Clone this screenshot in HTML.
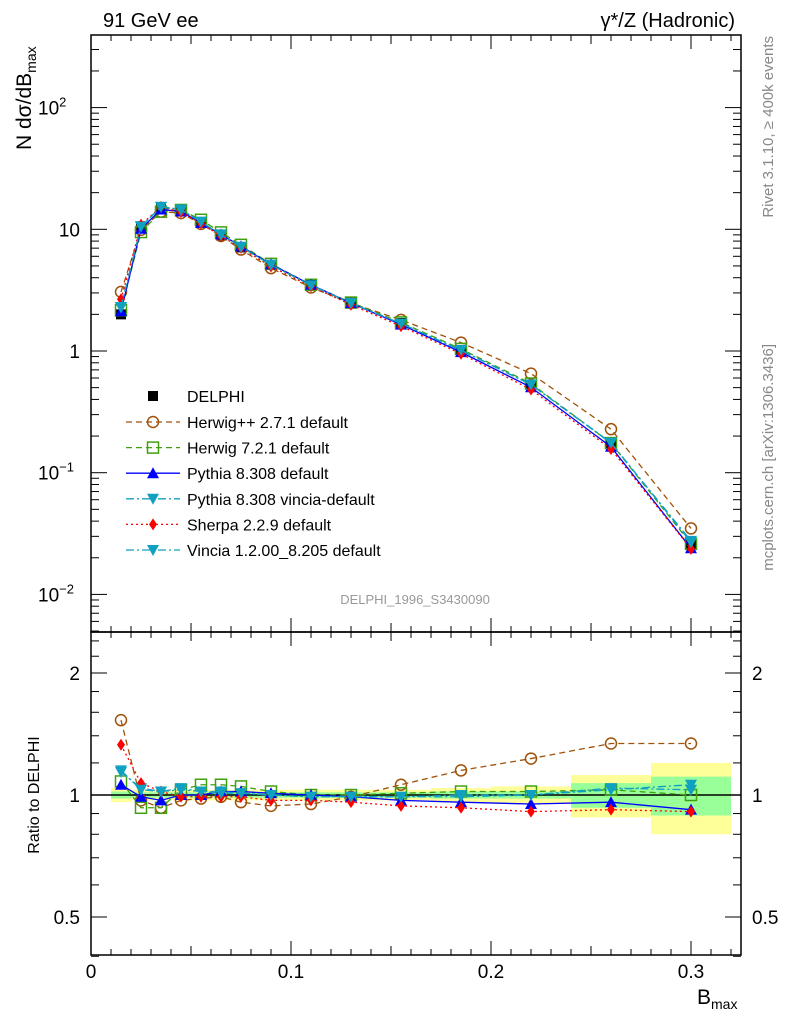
<!DOCTYPE html>
<html><head><meta charset="utf-8"><style>
body{margin:0;background:#fff;}
svg{display:block;font-family:"Liberation Sans",Arial,sans-serif;}
</style></head><body>
<svg id="c" width="786" height="1024" viewBox="0 0 786 1024"></svg>
<script>
const xs=[0.015,0.025,0.035,0.045,0.055,0.065,0.075,0.09,0.11,0.13,0.155,0.185,0.22,0.26,0.30];
const binLo=[0.01,0.02,0.03,0.04,0.05,0.06,0.07,0.08,0.10,0.12,0.14,0.17,0.20,0.24,0.28];
const binHi=[0.02,0.03,0.04,0.05,0.06,0.07,0.08,0.10,0.12,0.14,0.17,0.20,0.24,0.28,0.32];
const delphi=[2.0,10.2,15,14,11.3,8.9,7.1,5.1,3.5,2.5,1.7,1.02,0.53,0.17,0.026];
const errTot=[0.04,0.03,0.03,0.03,0.03,0.03,0.03,0.03,0.03,0.03,0.03,0.04,0.05,0.12,0.2];
const errStat=[0.02,0.015,0.015,0.015,0.015,0.015,0.015,0.015,0.015,0.015,0.015,0.02,0.02,0.07,0.11];
const rHerwigpp=[1.53,0.97,0.93,0.97,0.98,0.99,0.96,0.94,0.95,0.99,1.06,1.15,1.23,1.34,1.34];
const rHerwig7=[1.08,0.93,0.93,1.03,1.06,1.06,1.05,1.02,1.0,1.0,1.01,1.02,1.02,1.03,1.0];
const rPythia=[1.06,0.99,0.97,1.0,1.0,1.02,1.02,1.01,1.0,0.99,0.97,0.96,0.95,0.96,0.92];
const rVinciaDef=[1.14,1.04,1.02,1.04,1.02,1.02,1.01,1.0,0.99,0.99,0.99,0.99,1.0,1.03,1.06];
const rSherpa=[1.33,1.07,1.02,0.99,0.99,0.99,0.99,0.97,0.97,0.96,0.94,0.93,0.91,0.92,0.91];
const rVincia12=[1.15,1.03,1.02,1.03,1.02,1.01,1.01,1.0,0.99,0.99,0.99,1.0,1.0,1.04,1.03];
const xTicks=[0,0.1,0.2,0.3];
const NS='http://www.w3.org/2000/svg';
const svg=document.getElementById('c');
const L=91,R=741,T=35,M=632,B=955;
const X=v=>L+v*2000;
const Y=v=>351-Math.log10(v)*121.7;
const YR=v=>795-Math.log2(v)*122;
function el(t,a,p){const e=document.createElementNS(NS,t);for(const k in a)e.setAttribute(k,a[k]);(p||svg).appendChild(e);return e;}
function txt(x,y,s,a){const e=el('text',Object.assign({x:x,y:y},a||{}));e.innerHTML=s;return e;}
const bands=el('g',{});


for(let i=0;i<xs.length;i++){
 const a=el('rect',{x:X(binLo[i]),width:X(binHi[i])-X(binLo[i]),y:YR(1+errTot[i]),height:YR(1-errTot[i])-YR(1+errTot[i]),fill:'#ffff99'},bands);
 
 const b=el('rect',{x:X(binLo[i]),width:X(binHi[i])-X(binLo[i]),y:YR(1+errStat[i]),height:YR(1-errStat[i])-YR(1+errStat[i]),fill:'#99ff99'},bands);
 
}
el('line',{x1:L,x2:R,y1:YR(1),y2:YR(1),stroke:'#000','stroke-width':1.5});
el('rect',{x:L,y:T,width:R-L,height:M-T,fill:'none',stroke:'#000','stroke-width':1.5});
el('rect',{x:L,y:M,width:R-L,height:B-M,fill:'none',stroke:'#000','stroke-width':1.5});
for(let v=0;v<=0.321;v+=0.01){const big=Math.abs(v*10-Math.round(v*10))<1e-6;const mid=Math.abs(v*20-Math.round(v*20))<1e-6;const l=big?14:(mid?9:6);
 for(const [t,b] of [[T,M],[M,B]]){el('line',{x1:X(v),x2:X(v),y1:b,y2:b-l,stroke:'#000'});el('line',{x1:X(v),x2:X(v),y1:t,y2:t+l,stroke:'#000'});}}
xTicks.forEach(v=>{const t=txt(X(v),978,String(v),{'font-size':19,'text-anchor':'middle'});});
for(let d=-3;d<=2;d++)for(let k=1;k<10;k++){const v=k*Math.pow(10,d);const y=Y(v);if(y<T||y>M)continue;const l=k==1?16:8;
 el('line',{x1:L,x2:L+l,y1:y,y2:y,stroke:'#000'});el('line',{x1:R,x2:R-l,y1:y,y2:y,stroke:'#000'});}
[['10<tspan dy="-8" font-size="13">−2</tspan>',0.01],['10<tspan dy="-8" font-size="13">−1</tspan>',0.1],['1',1],['10',10],['10<tspan dy="-8" font-size="13">2</tspan>',100]].forEach(([s,v])=>{
 const t=txt(v>=1&&v<=10?80:70,Y(v)+7,s,{'font-size':19,'text-anchor':v>=1&&v<=10?'end':'start'});if(v<1||v>10){t.setAttribute('x',38);}
 });
for(const v of [0.4,0.5,0.6,0.7,0.8,0.9,1,1.2,1.4,1.6,1.8,2,2.2,2.4]){const y=YR(v);const l=(v==0.5||v==1||v==2)?16:8;
 el('line',{x1:L,x2:L+l,y1:y,y2:y,stroke:'#000'});el('line',{x1:R,x2:R-l,y1:y,y2:y,stroke:'#000'});}
[['0.5',0.5],['1',1],['2',2]].forEach(([s,v])=>{txt(80,YR(v)+7,s,{'font-size':19,'text-anchor':'end'});txt(752,YR(v)+7,s,{'font-size':19});});
const series=[
 {n:'herwigpp',r:rHerwigpp,c:'#a0520a',d:'6,4',m:'circle'},
 {n:'herwig7',r:rHerwig7,c:'#40a010',d:'6,4',m:'square'},
 {n:'pythia',r:rPythia,c:'#0000ff',d:'',m:'tri'},
 {n:'vincia-default',r:rVinciaDef,c:'#10a0c0',d:'8,3,2,3',m:'tridown'},
 {n:'sherpa',r:rSherpa,c:'#ff0000',d:'2,3',m:'diamond'},
 {n:'vincia-1-2',r:rVincia12,c:'#10a0c0',d:'8,3,2,3',m:'tridown'}];
function marker(m,x,y,c,g){
 if(m=='circle')return el('circle',{cx:x,cy:y,r:5.5,fill:'none',stroke:c,'stroke-width':1.5},g);
 if(m=='square')return el('rect',{x:x-5.5,y:y-5.5,width:11,height:11,fill:'none',stroke:c,'stroke-width':1.5},g);
 if(m=='tri')return el('polygon',{points:`${x},${y-6} ${x-6},${y+5} ${x+6},${y+5}`,fill:c},g);
 if(m=='tridown')return el('polygon',{points:`${x},${y+6} ${x-6},${y-5} ${x+6},${y-5}`,fill:c},g);
 if(m=='diamond')return el('polygon',{points:`${x},${y-6} ${x-4},${y} ${x},${y+6} ${x+4},${y}`,fill:c},g);
 if(m=='sq')return el('rect',{x:x-5,y:y-5,width:10,height:10,fill:c},g);
}
const dg=el('g',{});
xs.forEach((x,i)=>{const a=marker('sq',X(x),Y(delphi[i]),'#000',dg);});
series.forEach(s=>{
 const g=el('g',{});
 const main=xs.map((x,i)=>X(x)+','+Y(delphi[i]*s.r[i])).join(' ');
 const rat=xs.map((x,i)=>X(x)+','+YR(s.r[i])).join(' ');
 el('polyline',{points:main,fill:'none',stroke:s.c,'stroke-width':1.3,'stroke-dasharray':s.d},g);
 el('polyline',{points:rat,fill:'none',stroke:s.c,'stroke-width':1.3,'stroke-dasharray':s.d},g);
 xs.forEach((x,i)=>{const a=marker(s.m,X(x),Y(delphi[i]*s.r[i]),s.c,g);
  const b=marker(s.m,X(x),YR(s.r[i]),s.c,g);});
});
const lg=el('g',{});
marker('sq',153,396,'#000',lg);txt(187,402,'DELPHI',{'font-size':16},lg);
const labs=['Herwig++ 2.7.1 default','Herwig 7.2.1 default','Pythia 8.308 default','Pythia 8.308 vincia-default','Sherpa 2.2.9 default','Vincia 1.2.00_8.205 default'];
series.forEach((s,i)=>{const y=422+i*25.6;const e=el('g',{},lg);
 el('line',{x1:126,x2:180,y1:y,y2:y,stroke:s.c,'stroke-width':1.3,'stroke-dasharray':s.d},e);marker(s.m,153,y,s.c,e);txt(187,y+6,labs[i],{'font-size':16},e);});
const t1=txt(103,27,'91 GeV ee',{'font-size':20});
const t2=txt(735,27,'γ*/Z (Hadronic)',{'font-size':20,'text-anchor':'end'});
const yt=txt(0,0,'N dσ/dB<tspan dy="5" font-size="14">max</tspan>',{'font-size':21,transform:'translate(31,150) rotate(-90)'});
const rt=txt(0,0,'Ratio to DELPHI',{'font-size':16,'text-anchor':'middle',transform:'translate(39,795) rotate(-90)'});
const xt=txt(697,1004,'B<tspan dy="5" font-size="14">max</tspan>',{'font-size':21});
const an=txt(415,604,'DELPHI_1996_S3430090',{'font-size':13,fill:'#999','text-anchor':'middle'});
const rv=txt(0,0,'Rivet 3.1.10, ≥ 400k events',{'font-size':15,fill:'#888','text-anchor':'end',transform:'translate(773,36) rotate(-90)'});
const mc=txt(0,0,'mcplots.cern.ch [arXiv:1306.3436]',{'font-size':15,fill:'#888','text-anchor':'end',transform:'translate(773,344) rotate(-90)'});
</script>
</body></html>
